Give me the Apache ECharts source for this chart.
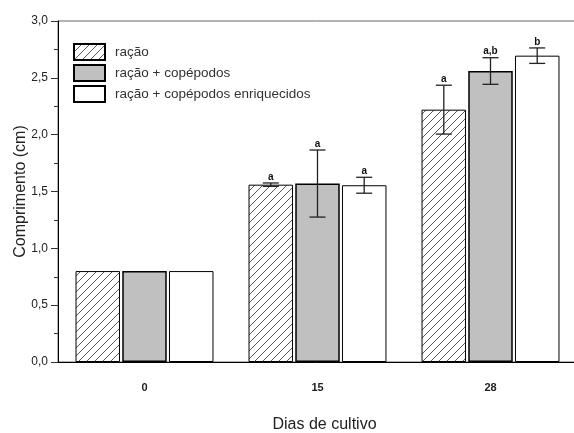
<!DOCTYPE html>
<html><head><meta charset="utf-8">
<script src="https://cdn.jsdelivr.net/npm/echarts@6/dist/echarts.min.js"></script>
<style>html,body{margin:0;padding:0;background:#fff}#c{width:574px;height:433px}</style>
</head><body><div id="c"></div>
<script>
var categories = ['0', '15', '28'];
var seriesNames = ['ração', 'ração + copépodos', 'ração + copépodos enriquecidos'];
var racao = [0.80, 1.56, 2.22];
var racaoCop = [0.80, 1.57, 2.56];
var racaoCopEnr = [0.80, 1.555, 2.695];
var errRacao = [0, 0.015, 0.215];
var errRacaoCop = [0, 0.295, 0.117];
var errRacaoCopEnr = [0, 0.07, 0.068];
var lettersRacao = ['', 'a', 'a'];
var lettersRacaoCop = ['', 'a', 'a,b'];
var lettersRacaoCopEnr = ['', 'a', 'b'];
var yTicks = [0, 0.5, 1.0, 1.5, 2.0, 2.5, 3.0];

var means = [racao, racaoCop, racaoCopEnr];
var errs = [errRacao, errRacaoCop, errRacaoCopEnr];
var letters = [lettersRacao, lettersRacaoCop, lettersRacaoCopEnr];

var BW = 44.5, GAP = 2.2;

var pat = document.createElement('canvas');
pat.width = 8; pat.height = 8;
var g = pat.getContext('2d');
g.fillStyle = '#fff'; g.fillRect(0, 0, 8, 8);
g.strokeStyle = '#444'; g.lineWidth = 0.9;
g.beginPath();
g.moveTo(0, 8); g.lineTo(8, 0);
g.moveTo(-4, 4); g.lineTo(4, -4);
g.moveTo(4, 12); g.lineTo(12, 4);
g.stroke();

var errData = [];
for (var s = 0; s < 3; s++) {
  for (var i = 0; i < categories.length; i++) {
    if (errs[s][i] > 0 || letters[s][i]) {
      errData.push([i, means[s][i], errs[s][i], s, letters[s][i]]);
    }
  }
}

var fillColors = [{image: pat, repeat: 'repeat'}, '#c0c0c0', '#ffffff'];
var borderW = [1, 1.5, 1];

var series = seriesNames.map(function (n, s) {
  return {
    name: n, type: 'bar', data: means[s], barWidth: BW, barGap: '5%',
    itemStyle: {color: fillColors[s], borderColor: '#000', borderWidth: borderW[s]},
    emphasis: {disabled: true}
  };
});
series.push({
  type: 'custom', name: 'err', data: errData, z: 10,
  encode: {x: 0, y: 1},
  renderItem: function (params, api) {
    var ci = api.value(0), m = api.value(1), e = api.value(2), s = api.value(3);
    var lt = errData[params.dataIndex][4];
    var off = (s - 1) * (BW + GAP);
    var top = api.coord([ci, m + e]);
    var bot = api.coord([ci, m - e]);
    var x = top[0] + off;
    var cw = 8;
    var children = [];
    if (e > 0) {
      children.push({type: 'line', shape: {x1: x, y1: top[1], x2: x, y2: bot[1]}, style: {stroke: '#222', lineWidth: 1.3}});
      children.push({type: 'line', shape: {x1: x - cw, y1: top[1], x2: x + cw, y2: top[1]}, style: {stroke: '#222', lineWidth: 1.3}});
      children.push({type: 'line', shape: {x1: x - cw, y1: bot[1], x2: x + cw, y2: bot[1]}, style: {stroke: '#222', lineWidth: 1.3}});
    }
    if (lt) {
      children.push({type: 'text', style: {text: lt, x: x, y: top[1] - 1, align: 'center', verticalAlign: 'bottom',
        font: 'bold 10px "Liberation Sans", Arial, sans-serif', fill: '#111'}});
    }
    return {type: 'group', children: children};
  }
});

var chart = echarts.init(document.getElementById('c'), null, {renderer: 'canvas'});
chart.setOption({
  animation: false,
  backgroundColor: '#fff',
  textStyle: {fontFamily: '"Liberation Sans", Arial, sans-serif'},
  grid: {left: 58, top: 21, right: -3, bottom: 71, show: true, borderColor: '#666', borderWidth: 1,
    backgroundColor: 'transparent', outerBoundsMode: 'none', containLabel: false},
  legend: {
    data: seriesNames, orient: 'vertical', left: 68, top: 38, itemWidth: 31, itemHeight: 16, itemGap: 3,
    icon: 'rect', selectedMode: false,
    textStyle: {fontSize: 13.5, color: '#333', padding: [0, 0, 0, 5]}
  },
  xAxis: {
    type: 'category', data: categories,
    name: 'Dias de cultivo', nameLocation: 'middle', nameGap: 55, nameMoveOverlap: false,
    nameTextStyle: {fontSize: 16, color: '#222', padding: [0, 0, 0, 14]},
    axisLine: {lineStyle: {color: '#000', width: 1}},
    axisTick: {alignWithLabel: true, length: 7, lineStyle: {color: '#333', width: 1.5}},
    axisLabel: {fontWeight: 'bold', fontSize: 11, color: '#222', margin: 20}
  },
  yAxis: {
    type: 'value', min: 0, max: 3, interval: 0.5,
    name: 'Comprimento (cm)', nameLocation: 'middle', nameGap: 29, nameMoveOverlap: false,
    nameTextStyle: {fontSize: 16, color: '#222'},
    axisLine: {show: true, lineStyle: {color: '#000', width: 1}},
    axisTick: {show: true, length: 7, lineStyle: {color: '#333'}},
    minorTick: {show: true, splitNumber: 2, length: 4, lineStyle: {color: '#333'}},
    splitLine: {show: false},
    axisLabel: {fontSize: 12, color: '#222', margin: 10, formatter: function (v) {
      var idx = yTicks.indexOf(v);
      return (idx >= 0 ? yTicks[idx] : v).toFixed(1).replace('.', ',');
    }}
  },
  series: series
});
</script></body></html>
